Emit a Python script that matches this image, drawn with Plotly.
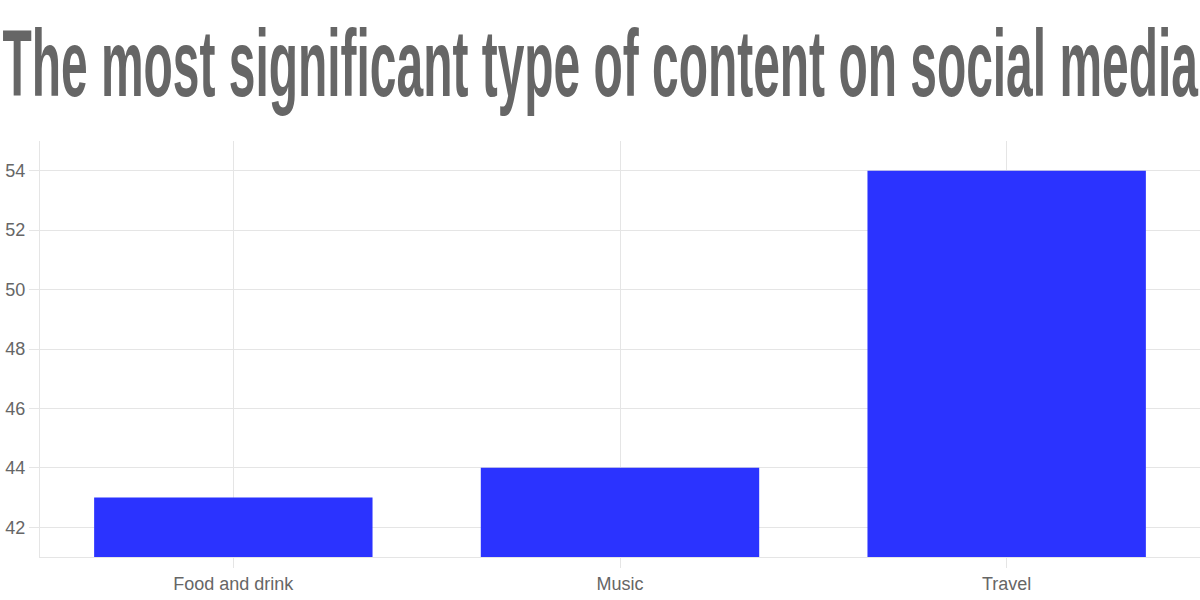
import plotly.graph_objects as go

# content type vs. share of people
categories = ['Food and drink', 'Music', 'Travel']
values = [43, 44, 54]

title_text = 'The most significant type of content on social media'
y_ticks = [42, 44, 46, 48, 50, 52, 54]
y_floor = 41

grid = '#e5e5e5'
text_grey = '#666666'

fig = go.Figure()
fig.add_trace(go.Bar(
    x=categories,
    y=[v - y_floor for v in values],  # bars rise from the bottom of the axis
    base=y_floor,
    marker=dict(color='#2b33ff', line=dict(width=0)),
    hovertext=[str(v) for v in values],
    hoverinfo='x+text',
))

fig.update_layout(
    width=1200,
    height=600,
    paper_bgcolor='white',
    plot_bgcolor='white',
    margin=dict(l=40, r=0, t=141, b=43),
    bargap=0.28,
    showlegend=False,
    font=dict(family='Liberation Sans, Arial, sans-serif', size=18, color=text_grey),
    title=dict(
        text=title_text,
        x=0.5,
        xanchor='center',
        yref='container',
        y=0.895,
        yanchor='middle',
        font=dict(family='Liberation Sans, Arial, sans-serif',
                  size=94, color=text_grey, weight='bold'),
    ),
)

fig.update_xaxes(
    showgrid=True,
    gridcolor=grid,
    ticks='outside',
    ticklen=10,
    tickcolor=grid,
    showline=True,
    linecolor=grid,
    tickfont=dict(size=18, color=text_grey),
)
fig.update_yaxes(
    range=[y_floor, 55],
    tickvals=y_ticks,
    showgrid=True,
    gridcolor=grid,
    ticks='outside',
    ticklen=10,
    tickcolor=grid,
    showline=True,
    linecolor=grid,
    zeroline=False,
    tickfont=dict(size=18, color=text_grey),
)

# the original title is squeezed sideways to fill the width
squeeze_title = """
document.body.style.margin = '0';
var t = document.querySelector('.gtitle');
if (t) {
    var bb = t.getBBox();
    var s = 1196 / bb.width;
    var cx = bb.x + bb.width / 2;
    t.setAttribute('transform',
        'translate(' + cx + ',0) scale(' + s + ',1) translate(' + (-cx) + ',0)');
}
"""

fig.write_html('out.html', post_script=squeeze_title,
               config={'displayModeBar': False})
